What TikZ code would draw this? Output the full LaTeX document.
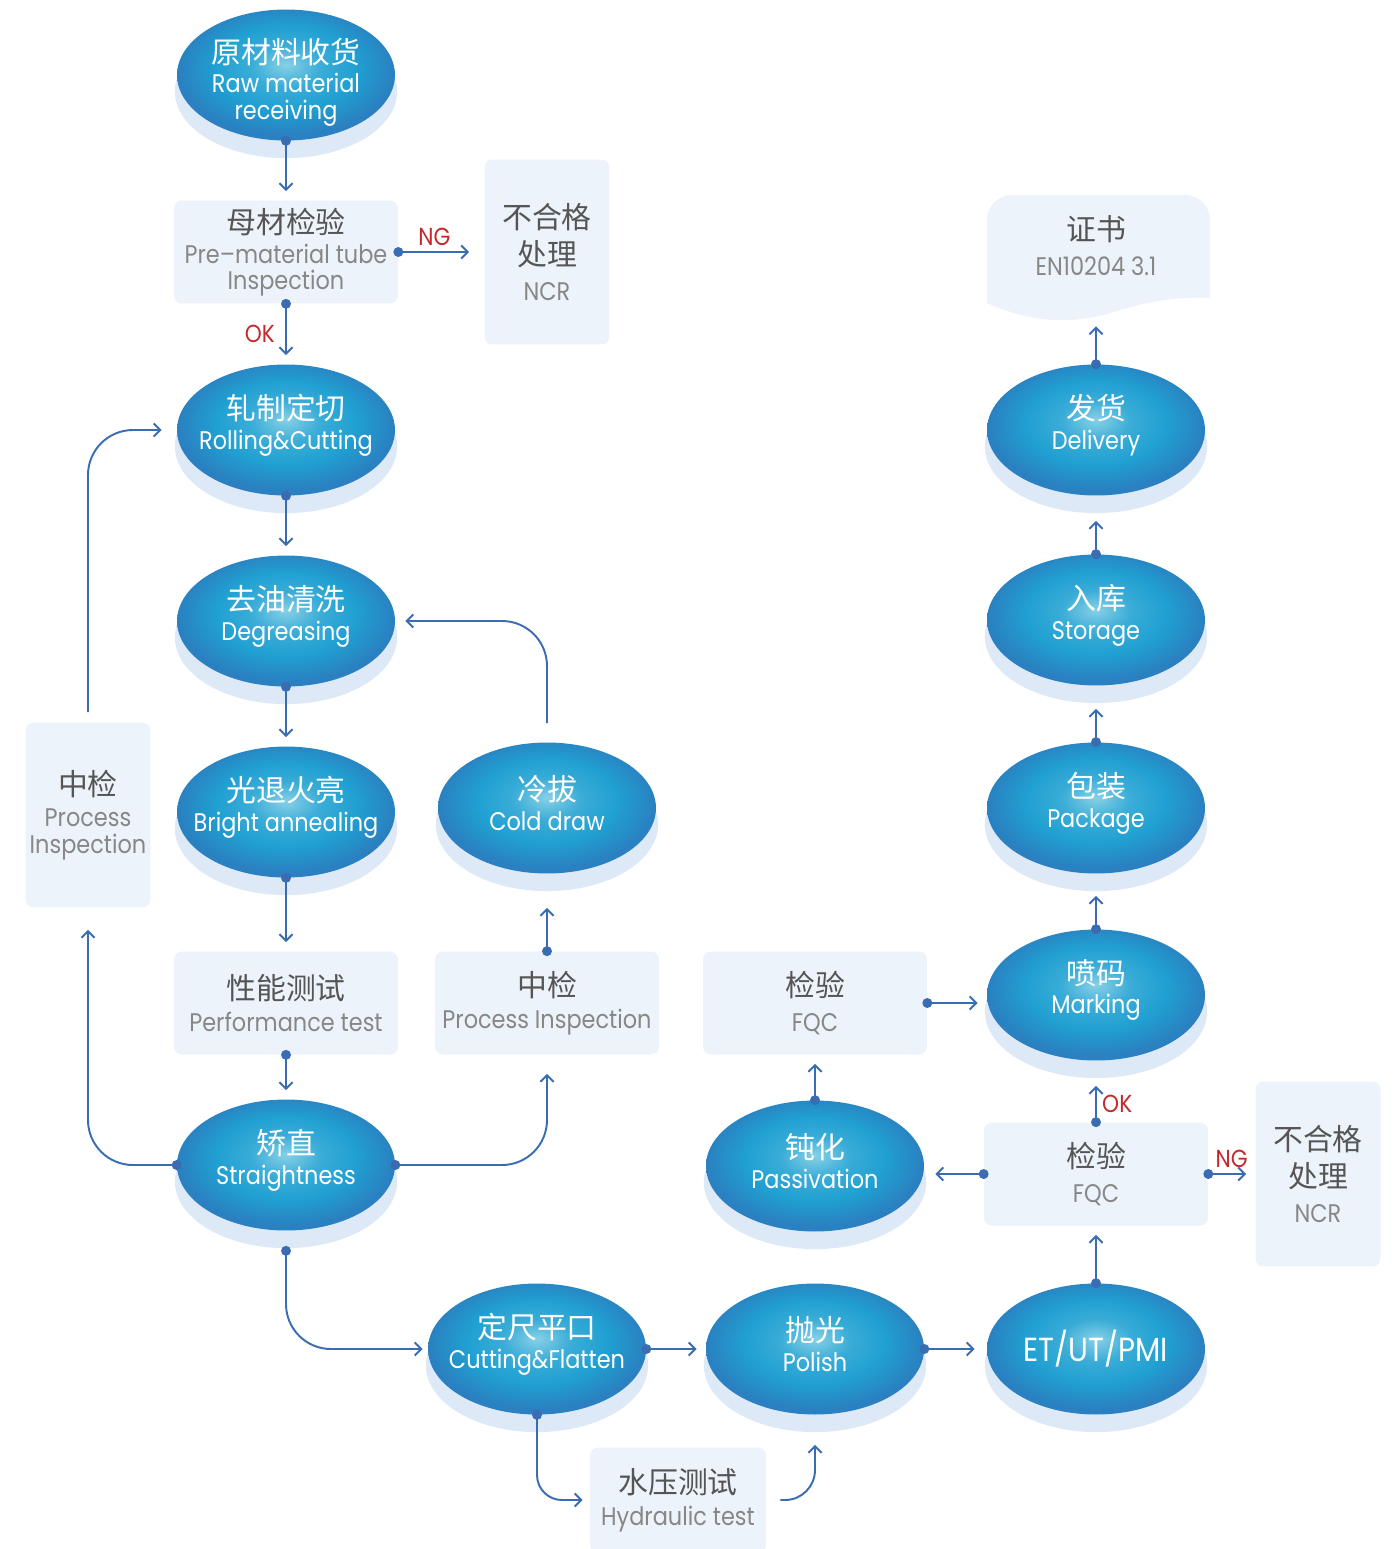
\documentclass[tikz,border=0pt]{standalone}
\usepackage{fontspec}
\setmainfont[FakeStretch=0.88]{Poppins}
\newfontfamily\cjk{Noto Sans CJK SC}
\usetikzlibrary{positioning}
\usetikzlibrary{shapes.geometric,shadows,arrows.meta}
\usepackage{xcolor}

\definecolor{lineblue}{RGB}{58,108,178}
\definecolor{boxblue}{RGB}{236,243,250}
\definecolor{shadeblue}{RGB}{221,233,246}
\definecolor{ngred}{RGB}{196,40,45}
\definecolor{cngrey}{RGB}{85,85,85}
\definecolor{engrey}{RGB}{135,135,135}
\definecolor{balllight}{RGB}{135,208,230}
\definecolor{ballmid}{RGB}{32,160,210}
\definecolor{balledge}{RGB}{42,128,192}

\pgfdeclareradialshading{ballshade}{\pgfpoint{0bp}{4bp}}{color(0bp)=(balllight); color(8bp)=(ballmid!75!balllight); color(16bp)=(ballmid); color(25bp)=(balledge); color(50bp)=(balledge)}

\newcommand{\cn}[1]{{\cjk\fontsize{17}{20}\selectfont #1}}
\newcommand{\cng}[1]{{\color{cngrey}\cjk\fontsize{17}{20}\selectfont #1}}

\begin{document}
\begin{tikzpicture}[x=0.02cm, y=-0.02cm,
		proc/.style={ellipse, minimum width=4.36cm, minimum height=2.62cm, inner sep=0pt, shading=ballshade,
			drop shadow={shadow xshift=0cm, shadow yshift=-0.32cm, shadow scale=1.02, fill=shadeblue, opacity=1}},
		proctext/.style={text=white, align=center, font=\fontsize{14.5}{15}\selectfont, yshift=0.1cm},
		infobox/.style={rectangle, rounded corners=0.16cm, fill=boxblue, minimum width=4.48cm, minimum height=2.06cm,
			inner sep=0pt, text=engrey, align=center, font=\fontsize{14.5}{15}\selectfont},
		ncrbox/.style={infobox, minimum width=2.5cm, minimum height=3.7cm},
		flow/.style={draw=lineblue, line width=1.1pt, {Circle[length=5.6pt]}-{Straight Barb[length=3.8pt,width=7.5pt]},
			shorten <=-2.8pt, shorten >=0.18cm},
		link/.style={draw=lineblue, line width=1.1pt, -{Straight Barb[length=3.8pt,width=7.5pt]}, shorten >=0.18cm},
		lab/.style={text=ngred, font=\fontsize{14}{14}\selectfont, inner sep=3pt},
		]
		\useasboundingbox (0,0) rectangle (1394,1549);

		%Ellipses
		\node[proc, label={[proctext, yshift=-0.24cm]center:{\cn{原材料收货}\\[2pt]Raw material\\receiving}}] (raw) at (286,75) {};
		\node[proc, label={[proctext]center:{\cn{轧制定切}\\[2pt]Rolling\&Cutting}}] (roll) at (286,430) {};
		\node[proc, label={[proctext]center:{\cn{去油清洗}\\[2pt]Degreasing}}] (degr) at (286,621) {};
		\node[proc, label={[proctext]center:{\cn{光退火亮}\\[2pt]Bright annealing}}] (brig) at (286,812) {};
		\node[proc, label={[proctext]center:{\cn{冷拔}\\[2pt]Cold draw}}] (cold) at (547,808) {};
		\node[proc, label={[proctext]center:{\cn{矫直}\\[2pt]Straightness}}] (strai) at (286,1165) {};
		\node[proc, label={[proctext]center:{\cn{定尺平口}\\[2pt]Cutting\&Flatten}}] (cut) at (537,1349) {};
		\node[proc, label={[proctext]center:{\cn{抛光}\\[2pt]Polish}}] (pol) at (815,1349) {};
		\node[proc, label={[proctext, yshift=-0.1cm, font=\fontsize{19}{20}\selectfont]center:{ET/UT/PMI}}] (et) at (1096,1349) {};
		\node[proc, label={[proctext]center:{\cn{钝化}\\[2pt]Passivation}}] (pas) at (815,1166) {};
		\node[proc, label={[proctext]center:{\cn{喷码}\\[2pt]Marking}}] (mark) at (1096,995) {};
		\node[proc, label={[proctext]center:{\cn{包装}\\[2pt]Package}}] (pack) at (1096,808) {};
		\node[proc, label={[proctext]center:{\cn{入库}\\[2pt]Storage}}] (stor) at (1096,620) {};
		\node[proc, label={[proctext]center:{\cn{发货}\\[2pt]Delivery}}] (deli) at (1096,430) {};

		%Boxes
		\node[infobox] (pre) at (286,252) {\cng{母材检验}\\[2pt]Pre--material tube\\Inspection};
		\node[ncrbox] (ncra) at (547,252) {\cng{不合格}\\[4pt]\cng{处理}\\[5pt]NCR};
		\node[ncrbox] (pil) at (88,815) {\cng{中检}\\[3pt]Process\\Inspection};
		\node[infobox] (perf) at (286,1003) {\cng{性能测试}\\[3pt]Performance test};
		\node[infobox] (pim) at (547,1003) {\cng{中检}\\[3pt]Process Inspection};
		\node[infobox] (fqca) at (815,1003) {\cng{检验}\\[5pt]FQC};
		\node[infobox] (fqcb) at (1096,1174) {\cng{检验}\\[5pt]FQC};
		\node[ncrbox] (ncrb) at (1318,1174) {\cng{不合格}\\[4pt]\cng{处理}\\[5pt]NCR};
		\node[infobox, minimum width=3.52cm, minimum height=2.1cm] (hyd) at (678,1500) {\cng{水压测试}\\[3pt]Hydraulic test};

		% Certificate
		\fill[boxblue] (987,303) [rounded corners=0.5cm] -- (987,195) -- (1210,195) [sharp corners] -- (1210,298)
			.. controls (1170,296) and (1140,304) .. (1110,313) .. controls (1070,325) and (1030,322) .. (987,303) -- cycle;
		\node[infobox, fill=none, minimum height=2.2cm] (cert) at (1096,246) {\cng{证书}\\[5pt]EN10204 3.1};

		%Lines
		\draw[flow] (raw.south) -- (pre.north);
		\draw[flow, shorten >=0.3cm] (pre.east) -- node[lab, above, pos=0.42] {NG} (ncra.west);
		\draw[flow] (pre.south) -- node[lab, left, xshift=-0.1cm] {OK} (roll.north);
		\draw[flow] (roll.south) -- (degr.north);
		\draw[flow] (degr.south) -- (brig.north);
		\draw[flow] (brig.south) -- (perf.north);
		\draw[flow] (perf.south) -- (strai.north);
		\draw[flow, rounded corners=0.9cm, shorten >=0.44cm] (strai.west) -| (pil.south);
		\draw[link, rounded corners=0.9cm, shorten <=0.2cm, shorten >=0.3cm] (pil.north) |- (roll.west);
		\draw[flow, rounded corners=0.9cm, shorten >=0.38cm] (strai.east) -| (pim.south);
		\draw[flow, shorten >=0.68cm] (pim.north) -- (cold.south);
		\draw[link, rounded corners=0.9cm, shorten <=0.38cm, shorten >=0.2cm] (cold.north) |- (degr.east);
		\draw[flow, rounded corners=0.9cm, shorten >=0.1cm] ([yshift=-0.4cm]strai.south) |- (cut.west);
		\draw[flow, rounded corners=0.5cm, shorten >=0.14cm] (cut.south) |- (hyd.west);
		\draw[link, rounded corners=0.6cm, shorten <=0.28cm, shorten >=0.6cm] (hyd.east) -| (pol.south);
		\draw[flow] (cut.east) -- (pol.west);
		\draw[flow, shorten >=0.24cm] (pol.east) -- (et.west);
		\draw[flow] (et.north) -- (fqcb.south);
		\draw[flow, shorten >=0.22cm] (fqcb.west) -- (fqcb.west -| pas.east);
		\draw[flow] (fqcb.east) -- node[lab, above] {NG} (ncrb.west);
		\draw[flow, shorten >=0.5cm] (fqcb.north) -- node[lab, right, pos=0.3] {OK} (mark.south);
		\draw[flow] (pas.north) -- (fqca.south);
		\draw[flow] (fqca.east) -- (fqca.east -| mark.west);
		\draw[flow, shorten >=0.44cm] (mark.north) -- (pack.south);
		\draw[flow, shorten >=0.46cm] (pack.north) -- (stor.south);
		\draw[flow, shorten >=0.5cm] (stor.north) -- (deli.south);
		\draw[flow, shorten >=0.5cm] (deli.north) -- (cert.south);
	\end{tikzpicture}
\end{document}
